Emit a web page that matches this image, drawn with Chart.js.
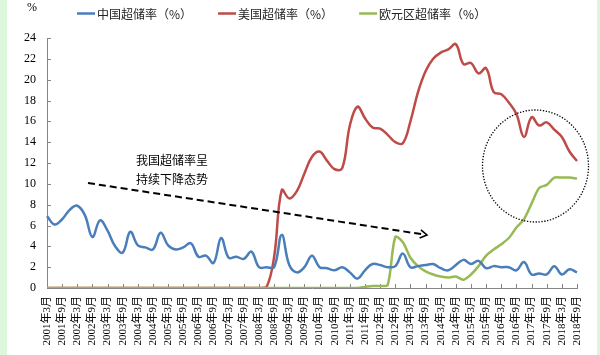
<!DOCTYPE html>
<html><head><meta charset="utf-8">
<script src="https://cdn.jsdelivr.net/npm/chart.js@4/dist/chart.umd.min.js"></script>
<style>html,body{margin:0;padding:0;background:#fff;}#wrap{width:600px;height:355px;position:relative;}</style>
</head><body><div id="wrap"><canvas id="c" width="600" height="355"></canvas></div>
<script>
const quarters = [
'2001年3月','2001年6月','2001年9月','2001年12月',
'2002年3月','2002年6月','2002年9月','2002年12月',
'2003年3月','2003年6月','2003年9月','2003年12月',
'2004年3月','2004年6月','2004年9月','2004年12月',
'2005年3月','2005年6月','2005年9月','2005年12月',
'2006年3月','2006年6月','2006年9月','2006年12月',
'2007年3月','2007年6月','2007年9月','2007年12月',
'2008年3月','2008年6月','2008年9月','2008年12月',
'2009年3月','2009年6月','2009年9月','2009年12月',
'2010年3月','2010年6月','2010年9月','2010年12月',
'2011年3月','2011年6月','2011年9月','2011年12月',
'2012年3月','2012年6月','2012年9月','2012年12月',
'2013年3月','2013年6月','2013年9月','2013年12月',
'2014年3月','2014年6月','2014年9月','2014年12月',
'2015年3月','2015年6月','2015年9月','2015年12月',
'2016年3月','2016年6月','2016年9月','2016年12月',
'2017年3月','2017年6月','2017年9月','2017年12月',
'2018年3月','2018年6月','2018年9月'];
const chinaRate = [
6.9,6.1,6.6,7.5, 7.9,7.0,4.9,6.5, 5.5,4.0,3.4,5.4, 4.1,3.9,3.7,5.3,
4.1,3.7,3.9,4.3, 3.0,3.1,2.4,4.8, 2.9,3.0,2.8,3.5, 2.0,2.0,2.0,5.1,
2.2,1.5,2.0,3.1, 2.0,1.9,1.7,2.0, 1.5,0.9,1.7,2.3, 2.2,2.0,2.1,3.3,
2.0,2.1,2.2,2.3, 1.9,1.7,2.2,2.7, 2.3,2.6,1.9,2.1, 2.0,2.0,1.7,2.5,
1.3,1.4,1.3,2.1, 1.3,1.8,1.5];
const usRate = [
0,0,0,0, 0,0,0,0, 0,0,0,0, 0,0,0,0,
0,0,0,0, 0,0,0,0, 0,0,0,0, 0,0.1,3.0,9.4,
8.6,9.3,11.0,12.6, 13.1,12.2,11.4,11.5, 15.6,17.4,16.3,15.4, 15.3,14.7,14.0,13.9,
16.0,18.8,20.8,22.0, 22.6,22.9,23.4,21.5, 21.6,20.6,21.1,18.8, 18.6,17.8,16.7,14.5,
16.4,15.6,15.9,15.2, 14.5,13.1,12.2];
const euroRate = [
0,0,0,0, 0,0,0,0, 0,0,0,0, 0,0,0,0,
0,0,0,0, 0,0,0,0, 0,0,0,0, 0,0,0,0,
0,0,0,0, 0,0,0,0, 0,0,0.1,0.2, 0.2,0.3,4.9,4.4,
2.9,2.1,1.6,1.3, 1.1,1.0,1.1,0.8, 1.3,2.1,3.1,3.7, 4.2,4.8,5.8,6.6,
8.1,9.6,9.9,10.6, 10.6,10.6,10.5];
const seriesNames = ['中国超储率（%）','美国超储率（%）','欧元区超储率（%）'];
const seriesColors = ['#4a7ebb','#be4b48','#98b954'];
const unitLabel = '%';
const noteLines = ['我国超储率呈','持续下降态势'];

const CJK = '"Noto Sans CJK SC", sans-serif';
const SERIF = '"Liberation Serif", "Noto Sans CJK SC", serif';

const decor = {
  id: 'decor',
  beforeDraw(chart) {
    const ctx = chart.ctx;
    ctx.save();
    ctx.fillStyle = '#ffffff';
    ctx.fillRect(0, 0, chart.width, chart.height);
    ctx.fillStyle = '#dcf7dc';
    ctx.fillRect(0, 0, 7, chart.height);
    ctx.fillRect(597, 0, 3, chart.height);
    ctx.restore();
  },
  beforeDatasetsDraw(chart) {
    const ctx = chart.ctx, xs = chart.scales.x, ys = chart.scales.y, a = chart.chartArea;
    ctx.save();
    ctx.strokeStyle = '#868686';
    ctx.lineWidth = 1;
    ctx.beginPath();
    for (let i = 0; i < quarters.length; i += 2) {
      const px = Math.round(xs.getPixelForValue(i)) + 0.5;
      ctx.moveTo(px, a.bottom);
      ctx.lineTo(px, a.bottom - 4);
    }
    ys.ticks.forEach(t => {
      const py = Math.round(ys.getPixelForValue(t.value)) + 0.5;
      ctx.moveTo(a.left, py);
      ctx.lineTo(a.left + 4, py);
    });
    ctx.stroke();
    ctx.restore();
  },
  afterDraw(chart) {
    const ctx = chart.ctx;
    ctx.save();
    // unit
    ctx.fillStyle = '#000';
    ctx.font = '12px ' + SERIF;
    ctx.textAlign = 'center';
    ctx.textBaseline = 'middle';
    ctx.fillText(unitLabel, 32, 8);
    // legend
    ctx.font = '12px ' + CJK;
    ctx.textAlign = 'left';
    let x = 77;
    const ly = 13.5;
    seriesNames.forEach((name, i) => {
      ctx.strokeStyle = seriesColors[i];
      ctx.lineWidth = 2.5;
      ctx.beginPath();
      ctx.moveTo(x, ly);
      ctx.lineTo(x + 18, ly);
      ctx.stroke();
      ctx.fillStyle = '#222';
      ctx.fillText(name, x + 20, ly + 0.5);
      x += 20 + ctx.measureText(name).width + 26;
    });
    // note text
    ctx.fillStyle = '#000';
    ctx.font = '12px ' + CJK;
    ctx.fillText(noteLines[0], 136, 160);
    ctx.fillText(noteLines[1], 136, 179);
    // dashed arrow
    const x0 = 88, y0 = 183, x1 = 427, y1 = 235;
    ctx.strokeStyle = '#000';
    ctx.lineWidth = 2;
    ctx.setLineDash([7, 4]);
    ctx.beginPath();
    ctx.moveTo(x0, y0);
    ctx.lineTo(x1 - 2, y1 - 0.3);
    ctx.stroke();
    ctx.setLineDash([]);
    const ang = Math.atan2(y1 - y0, x1 - x0);
    ctx.lineWidth = 1.6;
    ctx.beginPath();
    ctx.moveTo(x1 - 8 * Math.cos(ang - 0.55), y1 - 8 * Math.sin(ang - 0.55));
    ctx.lineTo(x1, y1);
    ctx.lineTo(x1 - 8 * Math.cos(ang + 0.55), y1 - 8 * Math.sin(ang + 0.55));
    ctx.stroke();
    // dotted ellipse
    ctx.lineWidth = 1.3;
    ctx.setLineDash([1.3, 1.6]);
    ctx.beginPath();
    ctx.ellipse(535.5, 166, 53, 56, 0, 0, Math.PI * 2);
    ctx.stroke();
    ctx.restore();
  }
};

new Chart(document.getElementById('c'), {
  type: 'line',
  data: {
    labels: quarters,
    datasets: [
      { label: seriesNames[0], data: chinaRate, borderColor: seriesColors[0], order: 0, tension: 0.4 },
      { label: seriesNames[1], data: usRate, borderColor: seriesColors[1], order: 2, tension: 0.4 },
      { label: seriesNames[2], data: euroRate, borderColor: seriesColors[2], order: 1, tension: 0.3 }
    ]
  },
  options: {
    responsive: false,
    animation: false,
    devicePixelRatio: 1,
    layout: { padding: { top: 38, right: 23, left: 0, bottom: 0 } },
    elements: { point: { radius: 0 }, line: { borderWidth: 2.5, fill: false } },
    plugins: { legend: { display: false }, tooltip: { enabled: false } },
    scales: {
      x: {
        type: 'category',
        offset: false,
        grid: { display: false, drawTicks: false },
        border: { display: true, color: '#868686' },
        afterFit: s => { s.height = 67; },
        ticks: {
          autoSkip: false, maxRotation: 90, minRotation: 90, padding: 8,
          color: '#000', font: { family: SERIF, size: 11 },
          callback: (v, i) => (i % 2 === 0 ? quarters[i] : null)
        }
      },
      y: {
        min: 0, max: 24,
        grid: { display: false, drawTicks: false },
        border: { display: true, color: '#868686' },
        afterFit: s => { s.width = 47; },
        ticks: { stepSize: 2, padding: 11, color: '#000', font: { family: SERIF, size: 12 } }
      }
    }
  },
  plugins: [decor]
});
</script></body></html>
